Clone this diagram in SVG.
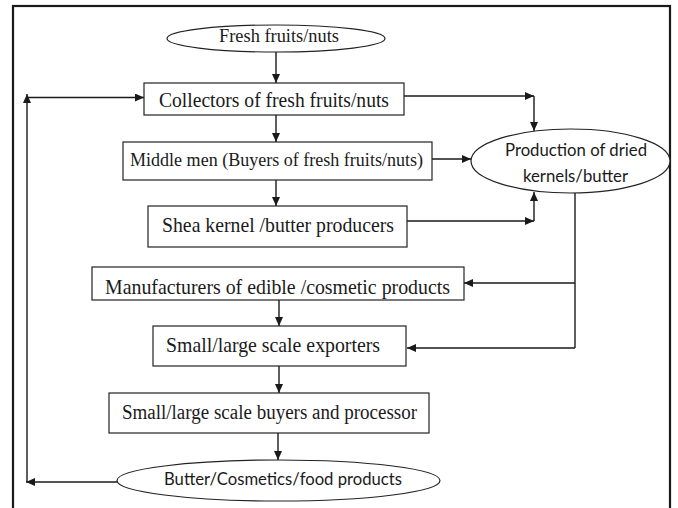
<svg xmlns="http://www.w3.org/2000/svg" width="678" height="508" viewBox="0 0 678 508">
<defs>
<marker id="ah" markerUnits="userSpaceOnUse" markerWidth="10" markerHeight="9" refX="9" refY="4" orient="auto">
<path d="M0,0 L9,4 L0,8 z" fill="#1a1a1a"/>
</marker>
<style>
.box{fill:#fff;stroke:#222;stroke-width:1.2}
.ell{fill:#fff;stroke:#222;stroke-width:1.2}
.ser{font-family:"Liberation Serif","Times New Roman",serif;fill:#1a1a1a}
.sans{font-family:Lato,"Liberation Sans",sans-serif;fill:#1a1a1a}
.c{fill:none;stroke:#1a1a1a;stroke-width:1.4}
.a{marker-end:url(#ah)}
</style>
</defs>
<rect x="0" y="0" width="678" height="508" fill="#fff"/>
<rect x="13" y="6" width="657" height="520" fill="none" stroke="#1a1a1a" stroke-width="2.2"/>
<g id="connectors">
<path class="c a" d="M276,52 V83"/>
<path class="c a" d="M276,115 V142"/>
<path class="c a" d="M276,180 V206"/>
<path class="c a" d="M279,300 V326"/>
<path class="c a" d="M279,366 V393"/>
<path class="c a" d="M278,433 V460"/>
<path class="c a" d="M404,96 H534"/>
<path class="c a" d="M534,96 V131"/>
<path class="c a" d="M432,159 H471"/>
<path class="c a" d="M407,221 H534"/>
<path class="c a" d="M534,221 V192"/>
<path class="c" d="M575,193 V348"/>
<path class="c a" d="M575,283 H464"/>
<path class="c a" d="M575,348 H407"/>
<path class="c a" d="M117,482 H26"/>
<path class="c a" d="M27,482 V94"/>
<path class="c a" d="M27,97.5 H144"/>
</g>
<g id="fresh">
<ellipse class="ell" cx="276" cy="38.5" rx="109" ry="13.5"/>
<text class="ser" x="219" y="42" font-size="18" textLength="120" lengthAdjust="spacingAndGlyphs">Fresh fruits/nuts</text>
</g>
<g id="collectors">
<rect class="box" x="144" y="83" width="260" height="32"/>
<text class="ser" x="159" y="106.5" font-size="21" textLength="230" lengthAdjust="spacingAndGlyphs">Collectors of fresh fruits/nuts</text>
</g>
<g id="middlemen">
<rect class="box" x="123" y="142" width="309" height="38"/>
<text class="ser" x="130" y="166" font-size="19.5" textLength="293" lengthAdjust="spacingAndGlyphs">Middle men (Buyers of fresh fruits/nuts)</text>
</g>
<g id="shea">
<rect class="box" x="148" y="206" width="259" height="41"/>
<text class="ser" x="162" y="232" font-size="21" textLength="232" lengthAdjust="spacingAndGlyphs">Shea kernel /butter producers</text>
</g>
<g id="production">
<ellipse class="ell" cx="570.5" cy="161" rx="99.5" ry="32"/>
<text class="sans" x="505" y="156" font-size="18" textLength="142" lengthAdjust="spacingAndGlyphs">Production of dried</text>
<text class="sans" x="523" y="182" font-size="18" textLength="105" lengthAdjust="spacingAndGlyphs">kernels/butter</text>
</g>
<g id="manufacturers">
<rect class="box" x="92" y="267" width="372" height="33"/>
<text class="ser" x="105" y="294" font-size="21" textLength="345" lengthAdjust="spacingAndGlyphs">Manufacturers of edible /cosmetic products</text>
</g>
<g id="exporters">
<rect class="box" x="153" y="326" width="253" height="40"/>
<text class="ser" x="166" y="351.5" font-size="21" textLength="214" lengthAdjust="spacingAndGlyphs">Small/large scale exporters</text>
</g>
<g id="buyers">
<rect class="box" x="109" y="393" width="320" height="40"/>
<text class="ser" x="122" y="418.5" font-size="20.5" textLength="295" lengthAdjust="spacingAndGlyphs">Small/large scale buyers and processor</text>
</g>
<g id="products">
<ellipse class="ell" cx="278.5" cy="480.5" rx="161.5" ry="20.5"/>
<text class="sans" x="164" y="485" font-size="18" textLength="238" lengthAdjust="spacingAndGlyphs">Butter/Cosmetics/food products</text>
</g>
</svg>
